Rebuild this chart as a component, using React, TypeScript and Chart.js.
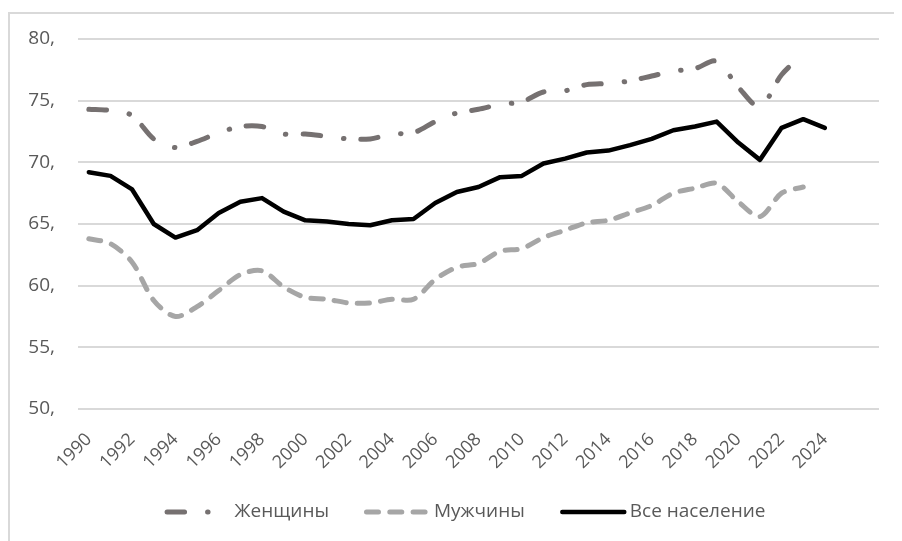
import React, { useEffect, useRef } from "react";
import { Chart, registerables } from "chart.js";

Chart.register(...registerables);

const years = [
  "1990", "1991", "1992", "1993", "1994", "1995", "1996", "1997", "1998", "1999",
  "2000", "2001", "2002", "2003", "2004", "2005", "2006", "2007", "2008", "2009",
  "2010", "2011", "2012", "2013", "2014", "2015", "2016", "2017", "2018", "2019",
  "2020", "2021", "2022", "2023", "2024", "", "",
];

const womenValues = [
  74.3, 74.2, 73.8, 71.9, 71.2, 71.7, 72.4, 72.9, 72.9, 72.3,
  72.3, 72.1, 71.9, 71.9, 72.3, 72.4, 73.3, 74.0, 74.3, 74.7,
  74.9, 75.7, 75.8, 76.3, 76.4, 76.6, 77.0, 77.4, 77.6, 78.2,
  76.1, 74.5, 77.1, 78.8, null,
];

const menValues = [
  63.8, 63.4, 61.9, 58.8, 57.5, 58.3, 59.6, 60.9, 61.2, 59.9,
  59.05, 58.9, 58.6, 58.6, 58.9, 58.9, 60.5, 61.5, 61.8, 62.8,
  63.0, 63.9, 64.5, 65.1, 65.3, 65.9, 66.5, 67.5, 67.9, 68.3,
  66.8, 65.6, 67.5, 68.0, null,
];

const totalValues = [
  69.2, 68.9, 67.8, 65.0, 63.9, 64.5, 65.9, 66.8, 67.1, 66.0,
  65.3, 65.2, 65.0, 64.9, 65.3, 65.4, 66.7, 67.6, 68.0, 68.8,
  68.9, 69.9, 70.3, 70.8, 70.95, 71.4, 71.9, 72.6, 72.9, 73.3,
  71.6, 70.2, 72.8, 73.5, 72.8,
];

const seriesNames = ["Женщины", "Мужчины", "Все население"];
const yTicks = [50, 55, 60, 65, 70, 75, 80];

const FONT = '"Open Sans", sans-serif';
const TEXT = "#595959";
const GRID = "#d9d9d9";

const legendLineLen = [43, 62, 62];

const bottomLegend = {
  id: "bottomLegend",
  afterDraw(chart: any) {
    const ctx = chart.ctx as CanvasRenderingContext2D;
    ctx.save();
    ctx.font = `19px ${FONT}`;
    const symbolArea = 70;
    const itemGap = 35;
    const dsets = chart.data.datasets;
    const widths = dsets.map((d: any) => symbolArea + ctx.measureText(d.label).width);
    const total = widths.reduce((a: number, b: number) => a + b, 0) + itemGap * (dsets.length - 1);
    let x = chart.width / 2 - total / 2;
    const y = 498;
    dsets.forEach((d: any, i: number) => {
      ctx.beginPath();
      ctx.strokeStyle = d.borderColor;
      ctx.lineWidth = d.borderWidth;
      ctx.lineCap = "round";
      ctx.setLineDash(d.borderDash || []);
      ctx.moveTo(x + 2.5, y);
      ctx.lineTo(x + 2.5 + legendLineLen[i], y);
      ctx.stroke();
      ctx.setLineDash([]);
      ctx.fillStyle = TEXT;
      ctx.textBaseline = "middle";
      ctx.textAlign = "left";
      ctx.fillText(d.label, x + symbolArea, y);
      x += widths[i] + itemGap;
    });
    ctx.restore();
  },
};

export default function App() {
  const ref = useRef<HTMLCanvasElement | null>(null);

  useEffect(() => {
    if (!ref.current) return;
    const chart = new Chart(ref.current, {
      type: "line",
      data: {
        labels: years,
        datasets: [
          {
            label: seriesNames[0],
            data: womenValues,
            borderColor: "#767171",
            borderWidth: 5,
            borderDash: [17.5, 23, 0.5, 17],
            borderCapStyle: "round",
            tension: 0.3,
            pointRadius: 0,
            fill: false,
          },
          {
            label: seriesNames[1],
            data: menValues,
            borderColor: "#a6a6a6",
            borderWidth: 5,
            borderDash: [12, 11.3],
            borderCapStyle: "round",
            tension: 0.3,
            pointRadius: 0,
            fill: false,
          },
          {
            label: seriesNames[2],
            data: totalValues,
            borderColor: "#000000",
            borderWidth: 4.5,
            borderCapStyle: "round",
            borderJoinStyle: "round",
            tension: 0,
            pointRadius: 0,
            fill: false,
          },
        ],
      },
      options: {
        responsive: false,
        animation: false,
        devicePixelRatio: 1,
        layout: { padding: { left: 0, right: 41, top: 25, bottom: 0 } },
        plugins: {
          legend: { display: false },
          tooltip: { enabled: false },
        },
        scales: {
          x: {
            offset: true,
            grid: { display: false },
            border: { display: false },
            ticks: {
              autoSkip: false,
              minRotation: 45,
              maxRotation: 45,
              padding: 12,
              color: TEXT,
              font: { family: FONT, size: 18 },
              callback: (_v: any, i: number) => (i % 2 === 0 ? years[i] : ""),
            },
            afterFit: (s: any) => {
              s.height = 145;
            },
          },
          y: {
            min: 50,
            max: 80,
            grid: {
              color: GRID,
              lineWidth: 2,
              drawTicks: true,
              tickLength: 20,
              tickColor: "rgba(0,0,0,0)",
            },
            border: { display: false },
            afterBuildTicks: (s: any) => {
              s.ticks = yTicks.map((v) => ({ value: v }));
            },
            ticks: {
              padding: 3,
              color: TEXT,
              font: { family: FONT, size: 19 },
              callback: (v: any) => `${v},`,
            },
            afterFit: (s: any) => {
              s.width = 68;
            },
          },
        },
      },
      plugins: [bottomLegend],
    });
    return () => chart.destroy();
  }, []);

  return (
    <div style={{ paddingTop: 4 }}>
      <div
        style={{
          width: 892,
          height: 527,
          overflow: "hidden",
          borderTop: `2px solid ${GRID}`,
          borderLeft: `2px solid ${GRID}`,
        }}
      >
        <canvas ref={ref} width={910} height={540} style={{ display: "block" }} />
      </div>
    </div>
  );
}
